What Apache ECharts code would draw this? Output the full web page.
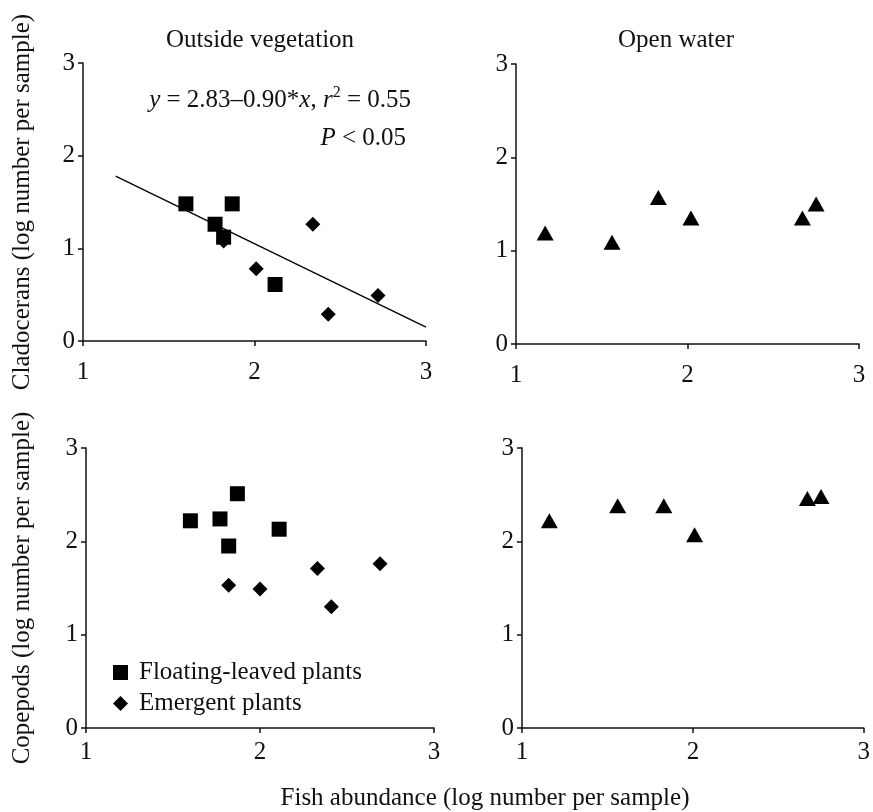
<!DOCTYPE html>
<html><head><meta charset="utf-8">
<script src="https://cdn.jsdelivr.net/npm/echarts@6/dist/echarts.min.js"></script>
<style>html,body{margin:0;padding:0;background:#fff}#c{width:873px;height:812px}</style>
</head><body><div id="c"></div>
<script>
// ---- data ----
const panelTitles = ['Outside vegetation', 'Open water'];
const yNames = ['Cladocerans (log number per sample)', 'Copepods (log number per sample)'];
const xName = 'Fish abundance (log number per sample)';
const xTicks = [1, 2, 3];
const yTicks = [0, 1, 2, 3];
const cladoFloating = [[1.60,1.48],[1.77,1.26],[1.87,1.48],[1.82,1.12],[2.12,0.61]];
const cladoEmergent = [[1.82,1.08],[2.01,0.78],[2.34,1.26],[2.43,0.29],[2.72,0.49]];
const cladoFitLine = [[1.19,1.78],[3.0,0.15]];
const cladoOpen = [[1.17,1.19],[1.56,1.09],[1.83,1.57],[2.02,1.35],[2.67,1.35],[2.75,1.50]];
const copeFloating = [[1.60,2.22],[1.77,2.24],[1.87,2.51],[1.82,1.95],[2.11,2.13]];
const copeEmergent = [[1.82,1.53],[2.00,1.49],[2.33,1.71],[2.41,1.30],[2.69,1.76]];
const copeOpen = [[1.16,2.22],[1.56,2.38],[1.83,2.38],[2.01,2.07],[2.67,2.46],[2.75,2.48]];
const legendNames = ['Floating-leaved plants', 'Emergent plants'];

// ---- chart ----
const FONT = "'Liberation Serif','Times New Roman',serif";
const FS = 25;
const INK = '#111';
const chart = echarts.init(document.getElementById('c'), null, {renderer: 'canvas'});

const grids = [
  {left: 83, top: 63, width: 343, height: 278},
  {left: 516, top: 64, width: 343, height: 280},
  {left: 86, top: 448, width: 348, height: 280},
  {left: 522, top: 448, width: 342, height: 280}
];
const xLabelMargins = [19, 19, 12, 12];
const axisLine = {show: true, onZero: false, lineStyle: {color: INK, width: 1.5}};
const axisTick = {show: true, length: 5, inside: false, lineStyle: {color: INK, width: 1.5}};

const xAxes = grids.map((g, i) => ({
  type: 'value', gridIndex: i, min: xTicks[0], max: xTicks[xTicks.length - 1], interval: 1,
  axisLine, axisTick, splitLine: {show: false},
  axisLabel: {color: INK, fontFamily: FONT, fontSize: FS, margin: xLabelMargins[i]}
}));
const yAxes = grids.map((g, i) => ({
  type: 'value', gridIndex: i, min: yTicks[0], max: yTicks[yTicks.length - 1], interval: 1,
  axisLine, axisTick, splitLine: {show: false},
  axisLabel: {color: INK, fontFamily: FONT, fontSize: FS, margin: 8},
  name: i === 0 ? yNames[0] : (i === 2 ? yNames[1] : ''),
  nameLocation: 'middle', nameGap: i === 0 ? 48 : 51,
  nameTextStyle: {color: INK, fontFamily: FONT, fontSize: FS}
}));

function scatter(name, data, idx, symbol, size) {
  return {
    name, type: 'scatter', xAxisIndex: idx, yAxisIndex: idx, data,
    symbol, symbolSize: size, itemStyle: {color: '#000', opacity: 1}, silent: true, z: 3
  };
}

const series = [
  scatter(legendNames[1], cladoEmergent, 0, 'diamond', 15),
  scatter(legendNames[0], cladoFloating, 0, 'rect', 15),
  {type: 'line', xAxisIndex: 0, yAxisIndex: 0, data: cladoFitLine, symbol: 'none',
   lineStyle: {color: '#000', width: 1.3}, silent: true, z: 2},
  scatter('Open', cladoOpen, 1, 'triangle', [17, 15]),
  scatter(legendNames[1], copeEmergent, 2, 'diamond', 15),
  scatter(legendNames[0], copeFloating, 2, 'rect', 15),
  scatter('Open', copeOpen, 3, 'triangle', [17, 15])
];

chart.setOption({
  animation: false,
  backgroundColor: '#fff',
  textStyle: {fontFamily: FONT, color: INK},
  grid: grids.map(g => Object.assign({containLabel: false}, g)),
  xAxis: xAxes,
  yAxis: yAxes,
  legend: {
    data: legendNames.map(n => ({name: n, icon: n === legendNames[0] ? 'rect' : 'diamond'})),
    orient: 'vertical', left: 108, top: 655, itemWidth: 15, itemHeight: 15, itemGap: 6,
    textStyle: {color: INK, fontFamily: FONT, fontSize: FS, padding: [0, 0, 0, 6]},
    selectedMode: false
  },
  graphic: [
    {type: 'text', x: 260, y: 40, style: {text: panelTitles[0], fill: INK, font: FS + 'px ' + FONT, textAlign: 'center', textVerticalAlign: 'middle'}},
    {type: 'text', x: 676, y: 40, style: {text: panelTitles[1], fill: INK, font: FS + 'px ' + FONT, textAlign: 'center', textVerticalAlign: 'middle'}},
    {type: 'text', x: 411, y: 100, style: {
      text: '{i|y} = 2.83–0.90*{i|x}, {i|r}{sup|2} = 0.55',
      fill: INK, font: FS + 'px ' + FONT, textAlign: 'right', textVerticalAlign: 'middle',
      rich: {
        i: {fontStyle: 'italic', fontFamily: FONT, fontSize: FS, fill: INK},
        sup: {fontFamily: FONT, fontSize: 16, fill: INK, verticalAlign: 'top', lineHeight: 30}
      }
    }},
    {type: 'text', x: 406, y: 138, style: {
      text: '{i|P} < 0.05', fill: INK, font: FS + 'px ' + FONT, textAlign: 'right', textVerticalAlign: 'middle',
      rich: {i: {fontStyle: 'italic', fontFamily: FONT, fontSize: FS, fill: INK}}
    }},
    {type: 'text', x: 485, y: 798, style: {text: xName, fill: INK, font: FS + 'px ' + FONT, textAlign: 'center', textVerticalAlign: 'middle'}}
  ],
  series
});
</script>
</body></html>
